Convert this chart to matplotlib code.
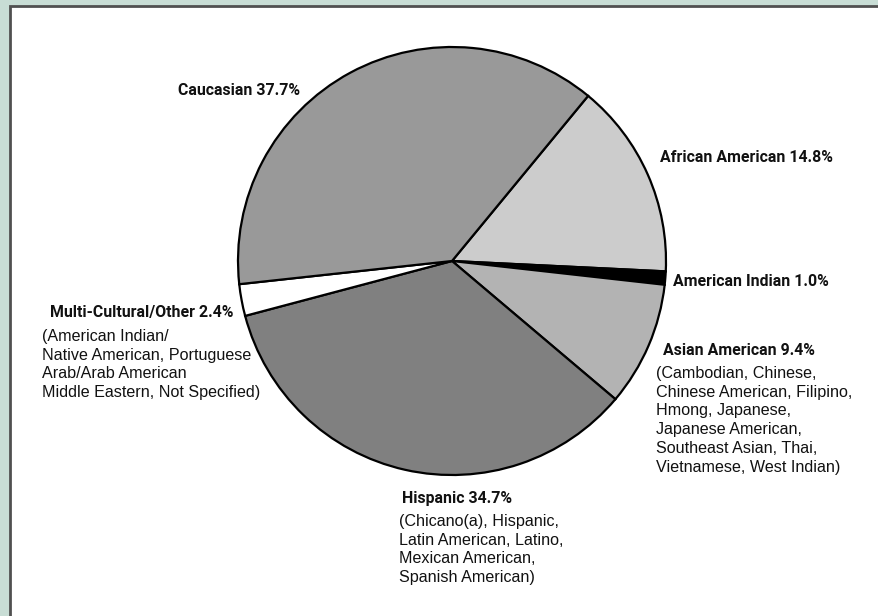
import matplotlib
matplotlib.use("Agg")
import matplotlib.pyplot as plt
from matplotlib.patches import Rectangle

# wedge order, clockwise from the top-right boundary
groups = ["African American", "American Indian", "Asian American",
          "Hispanic", "Multi-Cultural/Other", "Caucasian"]
shares = [14.8, 1.0, 9.4, 34.7, 2.4, 37.7]
colors = ["#cccccc", "#000000", "#b3b3b3", "#808080", "#ffffff", "#999999"]

details = {
    "Multi-Cultural/Other": "(American Indian/\nNative American, Portuguese\nArab/Arab American\nMiddle Eastern, Not Specified)",
    "Asian American": "(Cambodian, Chinese,\nChinese American, Filipino,\nHmong, Japanese,\nJapanese American,\nSoutheast Asian, Thai,\nVietnamese, West Indian)",
    "Hispanic": "(Chicano(a), Hispanic,\nLatin American, Latino,\nMexican American,\nSpanish American)",
}

W, H = 879, 616
fig = plt.figure(figsize=(W / 100, H / 100), dpi=100)
fig.patch.set_facecolor("#c8ddd5")
ax = fig.add_axes([0, 0, 1, 1])
ax.set_xlim(0, W)
ax.set_ylim(0, H)
ax.axis("off")

# white panel with dark border on top and left
ax.add_patch(Rectangle((10, -10), W + 20, H - 6 + 10, facecolor="white",
                       edgecolor="#505050", linewidth=2))

ax.pie(shares, colors=colors, startangle=50.5, counterclock=False,
       center=(452, H - 261), radius=214,
       wedgeprops=dict(edgecolor="black", linewidth=1.6))
ax.set_aspect("equal")
ax.set_xlim(0, W)
ax.set_ylim(0, H)

bold = dict(family=["Roboto", "DejaVu Sans"], weight="bold",
            fontsize=11.4, color="#111111")
body = dict(family=["Liberation Sans", "DejaVu Sans"], fontsize=11.6,
            color="#111111", linespacing=1.31)

# label anchors (left x, baseline y in image pixels)
label_pos = {
    "Caucasian": (178, 95),
    "African American": (660, 162),
    "American Indian": (673, 286),
    "Multi-Cultural/Other": (50, 317),
    "Asian American": (663, 355),
    "Hispanic": (402, 503),
}
detail_pos = {
    "Multi-Cultural/Other": (42, 329),
    "Asian American": (656, 366),
    "Hispanic": (399, 514),
}

for g, s in zip(groups, shares):
    x, y = label_pos[g]
    ax.text(x, H - y, f"{g} {s}%", ha="left", va="baseline", **bold)
    if g in details:
        dx, dy = detail_pos[g]
        ax.text(dx, H - dy, details[g], ha="left", va="top", **body)

fig.savefig("out.png", dpi=100, facecolor=fig.get_facecolor())
